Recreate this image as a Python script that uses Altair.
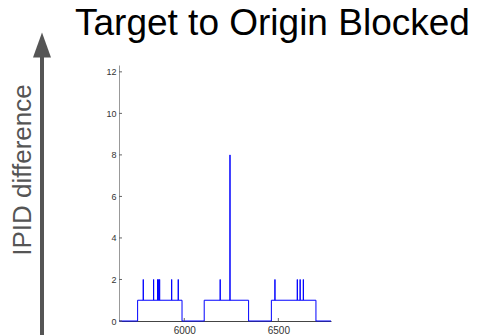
import altair as alt
import pandas as pd

# ---- data ----
x_domain = [5653, 6780]
y_domain = [0, 12.33]
block_start = [5752, 6106, 6463]
block_end = [5988, 6342, 6700]
block_level = [1, 1, 1]
spike_x = [5782, 5837, 5858, 5864, 5869, 5933, 5968, 6191, 6243, 6482, 6601, 6616, 6633]
spike_y = [2, 2, 2, 2, 2, 2, 2, 2, 8, 2, 2, 2, 2]
y_ticks = [0, 2, 4, 6, 8, 10, 12]
x_ticks = [6000, 6500]

# ---- build the step path ----
pts = [(x_domain[0], 0)]
for a, b, lv in zip(block_start, block_end, block_level):
    pts += [(a, 0), (a, lv)]
    for sx, sy in zip(spike_x, spike_y):
        if a < sx < b:
            pts += [(sx, lv), (sx, sy), (sx, lv)]
    pts += [(b, lv), (b, 0)]
pts.append((x_domain[1], 0))
df = pd.DataFrame({"packet": [p[0] for p in pts], "diff": [p[1] for p in pts]})
df["idx"] = range(len(df))

FONT = "Liberation Sans"
W, H = 212, 256

xscale = alt.Scale(domain=x_domain, nice=False, zero=False)
yscale = alt.Scale(domain=y_domain, nice=False, zero=False)
xaxis = alt.Axis(values=x_ticks, format="d", grid=False, tickSize=0,
                 labelPadding=4, labelFontSize=10, labelColor="#333333",
                 labelFont=FONT, domainColor="#444444", domainWidth=1, title=None)
yaxis = alt.Axis(values=y_ticks, grid=False, tickSize=0, labelPadding=3,
                 labelFontSize=9, labelColor="#333333", labelFont=FONT,
                 domainColor="#999999", domainWidth=1, title=None)

line = alt.Chart(df).mark_line(color="#0000ff", strokeWidth=1, clip=False).encode(
    x=alt.X("packet:Q", scale=xscale, axis=xaxis),
    y=alt.Y("diff:Q", scale=yscale, axis=yaxis),
    order="idx:Q",
)

ytick_df = pd.DataFrame({"v": y_ticks})
yticks = alt.Chart(ytick_df).mark_rule(color="#666666", strokeWidth=1).encode(
    y=alt.Y("v:Q", scale=yscale, axis=yaxis),
    x=alt.value(0), x2=alt.value(3),
)
xtick_df = pd.DataFrame({"v": x_ticks})
xticks = alt.Chart(xtick_df).mark_rule(color="#666666", strokeWidth=1).encode(
    x=alt.X("v:Q", scale=xscale, axis=xaxis),
    y=alt.value(H), y2=alt.value(H - 3),
)

one = pd.DataFrame({"a": [0]})
shaft = alt.Chart(one).mark_rule(color="#555555", strokeWidth=4, clip=False).encode(
    x=alt.value(-77), y=alt.value(-10), y2=alt.value(275),
)
head = alt.Chart(one).mark_point(
    shape="M0,-1L0.72,1L-0.72,1Z", filled=True, color="#555555", opacity=1,
    size=625, clip=False,
).encode(x=alt.value(-77), y=alt.value(-20))
ylabel = alt.Chart(one).mark_text(
    text="IPID difference", angle=270, fontSize=26, font=FONT, color="#555555",
    align="center", baseline="alphabetic",
).encode(x=alt.value(-88), y=alt.value(105))
title = alt.Chart(one).mark_text(
    text="Target to Origin Blocked", fontSize=37, font=FONT, color="#000000",
    align="left", baseline="alphabetic",
).encode(x=alt.value(-44), y=alt.value(-30))

chart = alt.layer(line, yticks, xticks, shaft, head, ylabel, title).properties(
    width=W, height=H,
    autosize=alt.AutoSizeParams(type="none"),
    padding={"left": 111, "top": 57, "right": 140, "bottom": 14},
).configure_view(stroke=None)

chart.save("out.html", embed_options={"renderer": "svg", "actions": False})
